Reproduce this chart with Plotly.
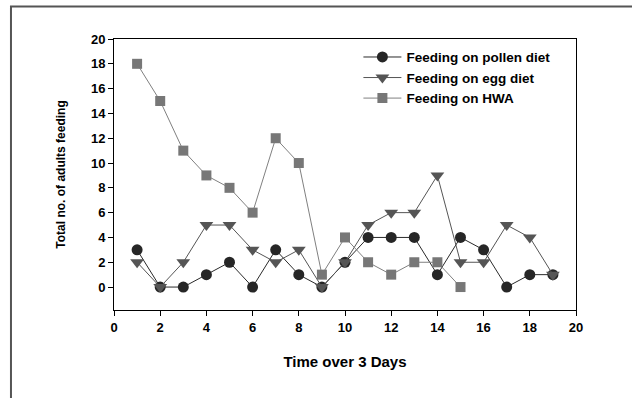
import plotly.graph_objects as go

days = list(range(1, 20))
hwa_days = list(range(1, 16))

pollen = [3, 0, 0, 1, 2, 0, 3, 1, 0, 2, 4, 4, 4, 1, 4, 3, 0, 1, 1]
egg = [2, 0, 2, 5, 5, 3, 2, 3, 0, 2, 5, 6, 6, 9, 2, 2, 5, 4, 1]
hwa = [18, 15, 11, 9, 8, 6, 12, 10, 1, 4, 2, 1, 2, 2, 0]

tick_vals = list(range(0, 21, 2))

fig = go.Figure()
fig.add_trace(go.Scatter(x=days, y=pollen, name='Feeding on pollen diet', mode='lines+markers',
                         line=dict(color='#2a2a2a', width=1),
                         marker=dict(symbol='circle', size=11, color='#262626')))
fig.add_trace(go.Scatter(x=days, y=egg, name='Feeding on egg diet', mode='lines+markers',
                         line=dict(color='#555555', width=1),
                         marker=dict(symbol='triangle-down', size=12, color='#555555')))
fig.add_trace(go.Scatter(x=hwa_days, y=hwa, name='Feeding on HWA', mode='lines+markers',
                         line=dict(color='#808080', width=1),
                         marker=dict(symbol='square', size=10, color='#777777')))

fam = 'Liberation Sans, Arial'
tickf = dict(family=fam, size=13, color='#000', weight='bold')

fig.update_layout(
    width=632, height=398,
    margin=dict(l=114, r=56, t=39, b=88),
    plot_bgcolor='#fff', paper_bgcolor='#fff',
    font=dict(family=fam, size=12, color='#000'),
    showlegend=True,
    legend=dict(x=0.529, y=0.99, xanchor='left', yanchor='top', bgcolor='rgba(0,0,0,0)',
                font=dict(family=fam, size=13.5, color='#000', weight='bold'),
                itemwidth=38, tracegroupgap=0),
)
fig.update_xaxes(range=[0, 20], tickvals=tick_vals, ticks='outside', ticklen=5, tickcolor='#000',
                 showgrid=False, zeroline=False, showline=True, linecolor='#000', linewidth=1, mirror=True,
                 tickfont=tickf, automargin=False,
                 title=dict(text='Time over 3 Days', standoff=22,
                            font=dict(family=fam, size=15, color='#000', weight='bold')))
fig.update_yaxes(range=[-1.85, 20], tickvals=tick_vals, ticks='outside', ticklen=5, tickcolor='#000',
                 showgrid=False, zeroline=False, showline=True, linecolor='#000', linewidth=1, mirror=True,
                 tickfont=tickf, automargin=False,
                 title=dict(text='Total no. of adults feeding', standoff=22,
                            font=dict(family=fam, size=12, color='#000', weight='bold')))

# outer frame of the figure (right/bottom edges fall outside the page)
fig.add_shape(type='rect', xref='paper', yref='paper', x0=-0.223, x1=1.2, y0=-0.4, y1=1.12,
              line=dict(color='#555', width=2), layer='below')

# drop the default body margin so the figure sits at the page corner
fig.write_html("out.html", config={'displayModeBar': False},
               post_script="document.body.style.margin='0';")
